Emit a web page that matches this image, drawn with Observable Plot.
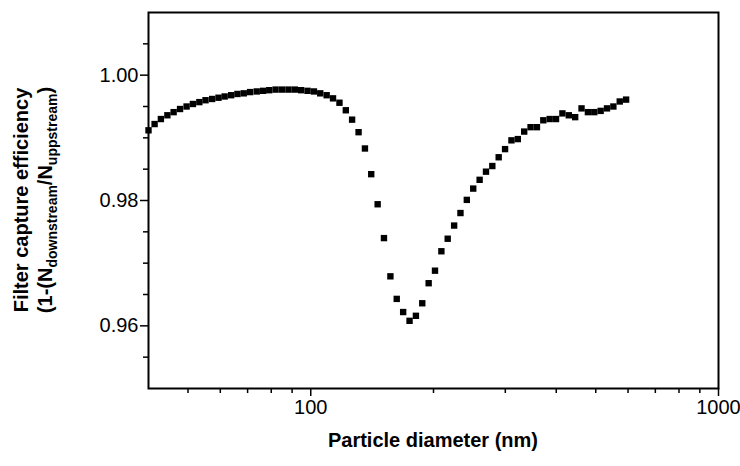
<!DOCTYPE html>
<html>
<head>
<script src="https://cdn.jsdelivr.net/npm/d3@7"></script>
<script src="https://cdn.jsdelivr.net/npm/@observablehq/plot@0.6"></script>
<style>
  body { margin: 0; background: #fff; }
  svg { font-family: "Liberation Sans", Arial, sans-serif; }
</style>
</head>
<body>
<div id="chart"></div>
<script>
// diametro de particula (nm), canales SMPS
const diameter = [40.0, 41.4, 42.9, 44.5, 46.1, 47.8, 49.6, 51.4, 53.3, 55.2, 57.3, 59.4, 61.5, 63.8,
  66.1, 68.5, 71.0, 73.7, 76.4, 79.1, 82.0, 85.1, 88.2, 91.4, 94.7, 98.2, 101.8, 105.5,
  109.4, 113.4, 117.6, 121.9, 126.3, 131.0, 135.8, 140.7, 145.9, 151.2, 156.8, 162.5, 168.5, 174.7,
  181.1, 187.7, 194.6, 201.7, 209.1, 216.7, 224.7, 232.9, 241.4, 250.3, 259.5, 269.0, 278.8, 289.0,
  299.6, 310.6, 322.0, 333.8, 346.0, 358.7, 371.8, 385.4, 399.5, 414.2, 429.4, 445.1, 461.4, 478.3,
  495.8, 514.0, 532.8, 552.3, 572.5, 593.5]
// eficiencia de captura
const efficiency = [0.9912, 0.9922, 0.9930, 0.9936, 0.9941, 0.9946, 0.9950, 0.9954, 0.9957, 0.9960,
  0.9962, 0.9964, 0.9966, 0.9968, 0.9970, 0.9971, 0.9973, 0.9974, 0.9975, 0.9976, 0.9977, 0.9977,
  0.9977, 0.9977, 0.9976, 0.9975, 0.9974, 0.9971,
  0.9968, 0.9963, 0.9956, 0.9944, 0.9929, 0.9909, 0.9883, 0.9842, 0.9794, 0.9740, 0.9679, 0.9643,
  0.9622, 0.9608, 0.9616, 0.9636, 0.9668, 0.9688, 0.9719, 0.9739, 0.9760, 0.9780, 0.9801, 0.9819,
  0.9833, 0.9846, 0.9855, 0.9869, 0.9882, 0.9896, 0.9898, 0.9910, 0.9917, 0.9917, 0.9928, 0.9930,
  0.9930, 0.9939, 0.9936, 0.9933, 0.9947, 0.9941, 0.9941, 0.9943, 0.9947, 0.9950, 0.9958, 0.9961]
const xMajor = [100, 1000]
const xMinor = [50, 60, 70, 80, 90, 200, 300, 400, 500, 600, 700, 800, 900]
const yMajor = [0.96, 0.98, 1.00]
const yMinor = [0.955, 0.965, 0.97, 0.975, 0.985, 0.99, 0.995, 1.005]

const data = diameter.map((d, i) => ({ d, e: efficiency[i] }))
const none = () => ""

let chart = Plot.plot({
  width: 740,
  height: 466,
  marginLeft: 148,
  marginRight: 22,
  marginTop: 12,
  marginBottom: 78,
  style: { fontSize: "20px", color: "#000" },
  x: { type: "log", domain: [40, 1000] },
  y: { domain: [0.95, 1.01] },
  marks: [
    Plot.axisX(xMajor, { tickSize: 8, tickPadding: 3, tickFormat: d => String(d), label: null, strokeWidth: 1.5, fontSize: 20 }),
    Plot.axisX(xMinor, { tickSize: 5, tickFormat: none, label: null, strokeWidth: 1.5 }),
    Plot.axisY(yMajor, { tickSize: 8, tickPadding: 2, tickFormat: ".2f", label: null, strokeWidth: 1.5, fontSize: 20 }),
    Plot.axisY(yMinor, { tickSize: 5, tickFormat: none, label: null, strokeWidth: 1.5 }),
    Plot.frame({ stroke: "#000", strokeWidth: 2 }),
    Plot.dot(data, { x: "d", y: "e", symbol: "square", r: 3.6, fill: "#000", stroke: null })
  ]
})

const svg = d3.select(chart)
svg.append("text")
  .attr("x", 433).attr("y", 447)
  .attr("text-anchor", "middle")
  .attr("font-weight", "bold").attr("font-size", 20)
  .text("Particle diameter (nm)")

const yl = svg.append("g").attr("transform", "translate(0,200) rotate(-90)")
  .attr("font-weight", "bold").attr("font-size", 20).attr("text-anchor", "middle")
yl.append("text").attr("x", 0).attr("y", 28).text("Filter capture efficiency")
const t2 = yl.append("text").attr("x", 0).attr("y", 52)
t2.append("tspan").text("(1-(N")
t2.append("tspan").attr("font-size", 14).attr("dy", 5).text("downstream")
t2.append("tspan").attr("dy", -5).text("/N")
t2.append("tspan").attr("font-size", 14).attr("dy", 5).text("uppstream")
t2.append("tspan").attr("dy", -5).text(")")

d3.select('#chart').append(() => chart)
</script>
</body>
</html>
